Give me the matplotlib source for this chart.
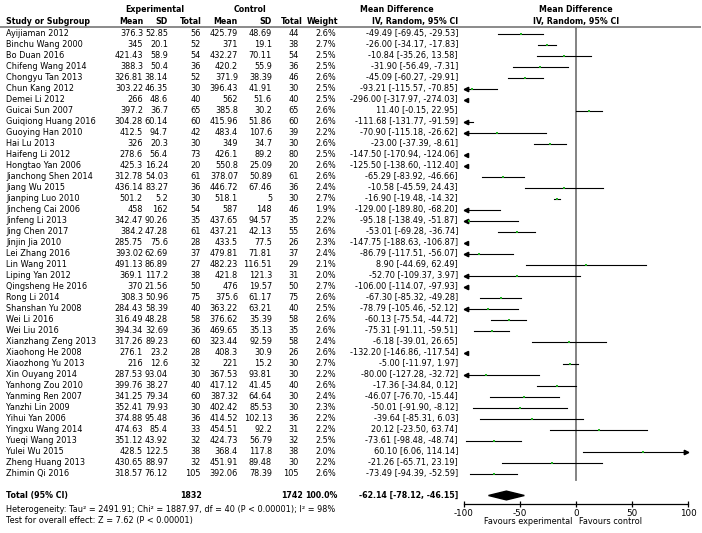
import numpy as np
import matplotlib
matplotlib.use("Agg")
import matplotlib.pyplot as plt

studies = ["Ayijiaman 2012", "Binchu Wang 2000", "Bo Duan 2016", "Chifeng Wang 2014",
           "Chongyu Tan 2013", "Chun Kang 2012", "Demei Li 2012", "Guicai Sun 2007",
           "Guiqiong Huang 2016", "Guoying Han 2010", "Hai Lu 2013", "Haifeng Li 2012",
           "Hongtao Yan 2006", "Jianchong Shen 2014", "Jiang Wu 2015", "Jianping Luo 2010",
           "Jincheng Cai 2006", "Jinfeng Li 2013", "Jing Chen 2017", "Jinjin Jia 2010",
           "Lei Zhang 2016", "Lin Wang 2011", "Liping Yan 2012", "Qingsheng He 2016",
           "Rong Li 2014", "Shanshan Yu 2008", "Wei Li 2016", "Wei Liu 2016",
           "Xianzhang Zeng 2013", "Xiaohong He 2008", "Xiaozhong Yu 2013", "Xin Ouyang 2014",
           "Yanhong Zou 2010", "Yanming Ren 2007", "Yanzhi Lin 2009", "Yihui Yan 2006",
           "Yingxu Wang 2014", "Yueqi Wang 2013", "Yulei Wu 2015", "Zheng Huang 2013",
           "Zhimin Qi 2016"]

exp_mean = [376.3, 345, 421.43, 388.3, 326.81, 303.22, 266, 397.2, 304.28, 412.5,
            326, 278.6, 425.3, 312.78, 436.14, 501.2, 458, 342.47, 384.2, 285.75,
            393.02, 491.13, 369.1, 370, 308.3, 284.43, 316.49, 394.34, 317.26, 276.1,
            216, 287.53, 399.76, 341.25, 352.41, 374.88, 474.63, 351.12, 428.5, 430.65,
            318.57]
exp_sd = [52.85, 20.1, 58.9, 50.4, 38.14, 46.35, 48.6, 36.7, 60.14, 94.7,
          20.3, 56.4, 16.24, 54.03, 83.27, 5.2, 162, 90.26, 47.28, 75.6,
          62.69, 86.89, 117.2, 21.56, 50.96, 58.39, 48.28, 32.69, 89.23, 23.2,
          12.6, 93.04, 38.27, 79.34, 79.93, 95.48, 85.4, 43.92, 122.5, 88.97,
          76.12]
exp_n = [56, 52, 54, 36, 52, 30, 40, 65, 60, 42, 30, 73, 20, 61, 36, 30, 54, 35, 61, 28,
         37, 27, 38, 50, 75, 40, 58, 36, 60, 28, 32, 30, 40, 60, 30, 36, 33, 32, 38, 32, 105]
ctl_mean = [425.79, 371, 432.27, 420.2, 371.9, 396.43, 562, 385.8, 415.96, 483.4,
            349, 426.1, 550.8, 378.07, 446.72, 518.1, 587, 437.65, 437.21, 433.5,
            479.81, 482.23, 421.8, 476, 375.6, 363.22, 376.62, 469.65, 323.44, 408.3,
            221, 367.53, 417.12, 387.32, 402.42, 414.52, 454.51, 424.73, 368.4, 451.91,
            392.06]
ctl_sd = [48.69, 19.1, 70.11, 55.9, 38.39, 41.91, 51.6, 30.2, 51.86, 107.6,
          34.7, 89.2, 25.09, 50.89, 67.46, 5, 148, 94.57, 42.13, 77.5,
          71.81, 116.51, 121.3, 19.57, 61.17, 63.21, 35.39, 35.13, 92.59, 30.9,
          15.2, 93.81, 41.45, 64.64, 85.53, 102.13, 92.2, 56.79, 117.8, 89.48,
          78.39]
ctl_n = [44, 38, 54, 36, 46, 30, 40, 65, 60, 39, 30, 80, 20, 61, 36, 30, 46, 35, 55, 26,
         37, 29, 31, 50, 75, 40, 58, 35, 58, 26, 30, 30, 40, 30, 30, 36, 31, 32, 38, 30, 105]
weight = [2.6, 2.7, 2.5, 2.5, 2.6, 2.5, 2.5, 2.6, 2.6, 2.2, 2.6, 2.5, 2.6, 2.6, 2.4, 2.7,
          1.9, 2.2, 2.6, 2.3, 2.4, 2.1, 2.0, 2.7, 2.6, 2.5, 2.6, 2.6, 2.4, 2.6, 2.7, 2.2,
          2.6, 2.4, 2.3, 2.2, 2.2, 2.5, 2.0, 2.2, 2.6]
md = [-49.49, -26.00, -10.84, -31.90, -45.09, -93.21, -296.00, 11.40, -111.68, -70.90,
      -23.00, -147.50, -125.50, -65.29, -10.58, -16.90, -129.00, -95.18, -53.01, -147.75,
      -86.79, 8.90, -52.70, -106.00, -67.30, -78.79, -60.13, -75.31, -6.18, -132.20,
      -5.00, -80.00, -17.36, -46.07, -50.01, -39.64, 20.12, -73.61, 60.10, -21.26, -73.49]
ci_lo = [-69.45, -34.17, -35.26, -56.49, -60.27, -115.57, -317.97, -0.15, -131.77, -115.18,
         -37.39, -170.94, -138.60, -83.92, -45.59, -19.48, -189.80, -138.49, -69.28, -188.63,
         -117.51, -44.69, -109.37, -114.07, -85.32, -105.46, -75.54, -91.11, -39.01, -146.86,
         -11.97, -127.28, -34.84, -76.70, -91.90, -85.31, -23.50, -98.48, 6.06, -65.71, -94.39]
ci_hi = [-29.53, -17.83, 13.58, -7.31, -29.91, -70.85, -274.03, 22.95, -91.59, -26.62,
         -8.61, -124.06, -112.40, -46.66, 24.43, -14.32, -68.20, -51.87, -36.74, -106.87,
         -56.07, 62.49, 3.97, -97.93, -49.28, -52.12, -44.72, -59.51, 26.65, -117.54,
         1.97, -32.72, 0.12, -15.44, -8.12, 6.03, 63.74, -48.74, 114.14, 23.19, -52.59]

total_exp = 1832
total_ctl = 1742
total_md, total_lo, total_hi = -62.14, -78.12, -46.15
xticks = [-100, -50, 0, 50, 100]

W, H = 702, 533
fig = plt.figure(figsize=(W / 100, H / 100), dpi=100)
plt.rcParams['font.family'] = 'DejaVu Sans'
fs = 5.9     # body text
fb = 5.7     # bold headers

# background axes in pixel units for the table text
bg = fig.add_axes([0, 0, 1, 1])
bg.set_xlim(0, W)
bg.set_ylim(H, 0)
bg.axis('off')

def row_y(i):
    return 33.5 + 11.0 * i

# header
hb = dict(fontsize=fb, fontweight='bold', va='center')
bg.text(155, 10, "Experimental", ha='center', **hb)
bg.text(250, 10, "Control", ha='center', **hb)
bg.text(397, 10, "Mean Difference", ha='center', **hb)
bg.text(576, 10, "Mean Difference", ha='center', **hb)
bg.text(6, 21.5, "Study or Subgroup", ha='left', **hb)
for x, lab in [(143, "Mean"), (168, "SD"), (202, "Total"), (238, "Mean"),
               (272, "SD"), (303, "Total"), (338, "Weight")]:
    bg.text(x, 21.5, lab, ha='right', **hb)
bg.text(458, 21.5, "IV, Random, 95% CI", ha='right', **hb)
bg.text(576, 21.5, "IV, Random, 95% CI", ha='center', **hb)
bg.plot([0, 700], [27, 27], color='#8a8a8a', lw=1.4)

tx = dict(fontsize=fs, va='center')
for i, name in enumerate(studies):
    y = row_y(i)
    bg.text(6, y, name, ha='left', **tx)
    bg.text(143, y, f"{exp_mean[i]:g}", ha='right', **tx)
    bg.text(168, y, f"{exp_sd[i]:g}", ha='right', **tx)
    bg.text(201, y, f"{exp_n[i]}", ha='right', **tx)
    bg.text(238, y, f"{ctl_mean[i]:g}", ha='right', **tx)
    bg.text(272, y, f"{ctl_sd[i]:g}", ha='right', **tx)
    bg.text(299, y, f"{ctl_n[i]}", ha='right', **tx)
    bg.text(336, y, f"{weight[i]:.1f}%", ha='right', **tx)
    bg.text(458, y, f"{md[i]:.2f} [{ci_lo[i]:.2f}, {ci_hi[i]:.2f}]", ha='right', **tx)

yt = row_y(42)
bg.text(6, yt, "Total (95% CI)", ha='left', **hb)
bg.text(202, yt, f"{total_exp}", ha='right', **hb)
bg.text(303, yt, f"{total_ctl}", ha='right', **hb)
bg.text(338, yt, "100.0%", ha='right', **hb)
bg.text(458, yt, f"{total_md:.2f} [{total_lo:.2f}, {total_hi:.2f}]", ha='right', **hb)
bg.text(6, 509.5, "Heterogeneity: Tau\u00b2 = 2491.91; Chi\u00b2 = 1887.97, df = 40 (P < 0.00001); I\u00b2 = 98%",
        ha='left', **tx)
bg.text(6, 520.5, "Test for overall effect: Z = 7.62 (P < 0.00001)", ha='left', **tx)
bg.text(572, 522, "Favours experimental", ha='right', **tx)
bg.text(579, 522, "Favours control", ha='left', **tx)

# forest axes
x0, x1 = 464, 688
ytop, ybot = 27, 504
ax = fig.add_axes([x0 / W, 1 - ybot / H, (x1 - x0) / W, (ybot - ytop) / H])
ax.set_xlim(-100, 100)
ax.set_ylim((ybot - 33.5) / 11.0, (ytop - 33.5) / 11.0)
ax.patch.set_visible(False)
for s in ['top', 'right', 'left']:
    ax.spines[s].set_visible(False)
ax.spines['bottom'].set_linewidth(0.9)
ax.set_yticks([])
ax.set_xticks(xticks)
ax.set_xticklabels([str(t) for t in xticks])
ax.tick_params(axis='x', direction='inout', length=5, width=0.9, pad=1, labelsize=fs + 0.4)

ax.plot([0, 0], [(ytop - 33.5) / 11.0, 40.6], color='#7a7a7a', lw=1.3, zorder=1)

for i in range(len(studies)):
    lo, hi, m = ci_lo[i], ci_hi[i], md[i]
    if hi < -100:
        ax.plot([-98.5], [i], marker='<', color='black', ms=3, clip_on=False)
        continue
    a, b = max(lo, -100), min(hi, 100)
    ax.plot([a, b], [i, i], color='black', lw=0.8, clip_on=False, zorder=2)
    if lo < -100:
        ax.plot([-98.5], [i], marker='<', color='black', ms=3.2, clip_on=False)
    if hi > 100:
        ax.plot([98.5], [i], marker='>', color='black', ms=3.2, clip_on=False)
    if -100 <= m <= 100:
        ax.plot([m], [i], marker='s', color='#22b022', ms=1.6 + 0.2 * weight[i],
                mew=0, zorder=3)

ax.fill([total_lo, total_md, total_hi, total_md], [42, 41.6, 42, 42.4],
        color='black', zorder=3)

fig.savefig("out.png", dpi=100)
